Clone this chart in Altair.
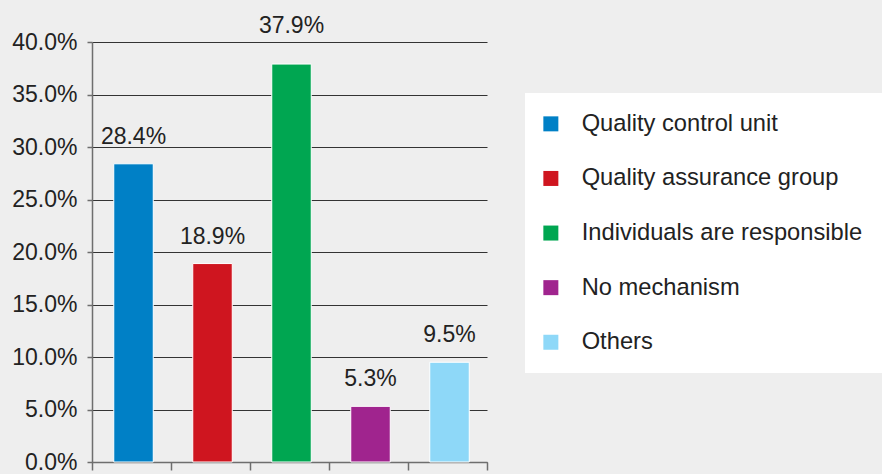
import altair as alt
import pandas as pd

categories = ["Quality control unit", "Quality assurance group", "Individuals are responsible",
              "No mechanism", "Others"]
values = [0.284, 0.189, 0.379, 0.053, 0.095]
colors = ["#0080c6", "#cf151f", "#00a651", "#a0248e", "#8ed8f8"]
y_ticks = [0, 0.05, 0.10, 0.15, 0.20, 0.25, 0.30, 0.35, 0.40]

df = pd.DataFrame({"cat": categories, "val": values})
df["label"] = [f"{v*100:.1f}%" for v in values]

FONT = "Liberation Sans"

x = alt.X("cat:N", sort=categories, title=None,
          scale=alt.Scale(paddingInner=0, paddingOuter=0),
          axis=alt.Axis(labels=False, tickBand="extent", ticks=True, tickSize=8,
                        tickColor="#6e6e6e", domainColor="#6e6e6e", domainWidth=1.5,
                        tickWidth=1.5, grid=False))
y = alt.Y("val:Q", title=None,
          scale=alt.Scale(domain=[0, 0.4], nice=False),
          axis=alt.Axis(values=y_ticks, format=".1%", labelFontSize=23, labelFont=FONT,
                        labelColor="#222222", labelPadding=10, tickSize=5,
                        tickColor="#6e6e6e", domainColor="#6e6e6e", domainWidth=1.5,
                        gridColor="#333333", gridWidth=1.2, tickWidth=1.5))

bars = alt.Chart(df).mark_bar(stroke="white", strokeWidth=1, width={"band": 0.5}, xOffset=2).encode(
    x=x, y=y,
    color=alt.Color("cat:N", sort=categories,
                    scale=alt.Scale(domain=categories, range=colors),
                    legend=alt.Legend(title=None, orient="none", legendX=433, legendY=51,
                                      fillColor="white", padding=19, symbolType="square",
                                      symbolSize=225, symbolStrokeWidth=0, symbolOffset=-5,
                                      labelFontSize=23.7, labelFont=FONT, labelColor="#222222",
                                      labelOffset=19, rowPadding=29.6, labelLimit=400)),
)

text_low = alt.Chart(df).transform_filter("datum.val < 0.35").mark_text(
    dy=-20, dx=2, baseline="alphabetic", fontSize=23, font=FONT, color="#222222"
).encode(x=alt.X("cat:N", sort=categories), y="val:Q", text="label:N")

text_high = alt.Chart(df).transform_filter("datum.val >= 0.35").mark_text(
    dy=-31, dx=2, baseline="alphabetic", fontSize=23, font=FONT, color="#222222"
).encode(x=alt.X("cat:N", sort=categories), y="val:Q", text="label:N")

chart = alt.layer(bars, text_low, text_high).properties(
    width=395, height=420,
    background="#eeeeee",
    padding={"left": 92, "top": 42, "right": 395, "bottom": 12},
    autosize=alt.AutoSizeParams(type="none"),
).configure_view(stroke=None)

chart.save("out.html", embed_options={"renderer": "svg", "actions": False})
